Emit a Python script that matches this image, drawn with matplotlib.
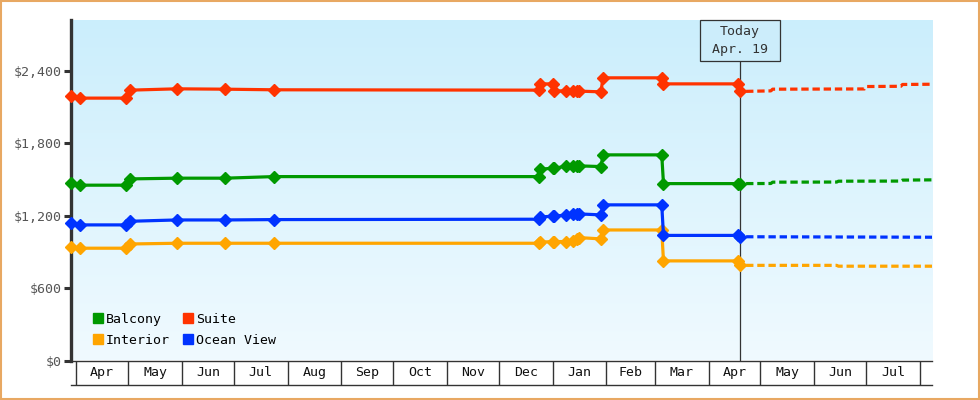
import datetime as dt
import numpy as np
import matplotlib
matplotlib.use('Agg')
import matplotlib.pyplot as plt
import matplotlib.dates as mdates
import matplotlib.transforms as mtransforms
from matplotlib.lines import Line2D
from matplotlib.patches import Rectangle


def d(y, m, dd):
    return dt.datetime(y, m, dd)


# ---- Data ----

obs_dates = [d(2018, 3, 29), d(2018, 4, 3), d(2018, 4, 30), d(2018, 5, 2),
             d(2018, 5, 29), d(2018, 6, 26), d(2018, 7, 24), d(2018, 12, 24),
             d(2018, 12, 25), d(2019, 1, 1), d(2019, 1, 2), d(2019, 1, 9),
             d(2019, 1, 13), d(2019, 1, 15), d(2019, 1, 16), d(2019, 1, 29),
             d(2019, 1, 30), d(2019, 3, 5), d(2019, 3, 6), d(2019, 4, 18),
             d(2019, 4, 19)]

balcony = [1468, 1452, 1452, 1504, 1510, 1510, 1523, 1523, 1584, 1593, 1593,
           1609, 1612, 1614, 1612, 1606, 1703, 1703, 1465, 1465, 1465]
suite = [2192, 2173, 2173, 2239, 2250, 2247, 2242, 2239, 2291, 2291, 2233,
         2233, 2233, 2231, 2231, 2225, 2341, 2341, 2291, 2291, 2228]
interior = [938, 930, 930, 965, 971, 971, 971, 971, 980, 985, 985,
            985, 990, 1003, 1018, 1007, 1081, 1081, 825, 825, 788]
ocean_view = [1139, 1123, 1123, 1153, 1164, 1164, 1167, 1170, 1189, 1195, 1195,
              1206, 1211, 1214, 1214, 1206, 1289, 1289, 1036, 1036, 1025]

# forecast (dashed) after today
fc_balcony_dates = [d(2019, 4, 19), d(2019, 5, 7), d(2019, 5, 8), d(2019, 6, 14),
                    d(2019, 6, 15), d(2019, 7, 21), d(2019, 7, 22), d(2019, 8, 8)]
fc_balcony = [1465, 1466, 1477, 1478, 1485, 1486, 1494, 1496]
fc_suite_dates = [d(2019, 4, 19), d(2019, 5, 7), d(2019, 5, 8), d(2019, 6, 30),
                  d(2019, 7, 1), d(2019, 7, 21), d(2019, 7, 22), d(2019, 8, 8)]
fc_suite = [2228, 2233, 2247, 2249, 2269, 2271, 2286, 2288]
fc_interior_dates = [d(2019, 4, 19), d(2019, 6, 14), d(2019, 6, 15), d(2019, 8, 8)]
fc_interior = [788, 788, 781, 781]
fc_ocean_dates = [d(2019, 4, 19), d(2019, 8, 8)]
fc_ocean = [1025, 1021]

today = d(2019, 4, 19)
xmin, xmax = d(2018, 3, 29), d(2019, 8, 8)
yticks = [0, 600, 1200, 1800, 2400]

colors = {'Balcony': '#009900', 'Suite': '#ff3300',
          'Interior': '#ffa500', 'Ocean View': '#0033ff'}

# ---- Figure ----

plt.rcParams['font.family'] = ['DejaVu Sans Mono']
fs = 9.5
dark = '#333333'

fig = plt.figure(figsize=(9.8, 4.0), dpi=100)
ax = fig.add_axes([71 / 980, 39.5 / 400, 861 / 980, 340.5 / 400])

# gradient background
grad = np.linspace(0, 1, 256).reshape(-1, 1)
top_c = np.array([203, 238, 252]) / 255
bot_c = np.array([240, 250, 255]) / 255
img = top_c[None, None, :] * (1 - grad[:, :, None]) + bot_c[None, None, :] * grad[:, :, None]
ax.imshow(img, extent=[0, 1, 0, 1], transform=ax.transAxes, aspect='auto', zorder=0)

series = [('Balcony', balcony, fc_balcony_dates, fc_balcony),
          ('Suite', suite, fc_suite_dates, fc_suite),
          ('Interior', interior, fc_interior_dates, fc_interior),
          ('Ocean View', ocean_view, fc_ocean_dates, fc_ocean)]

for name, vals, fdates, fvals in series:
    ax.plot(obs_dates, vals, color=colors[name], lw=2.3, marker='D', ms=5.8,
            solid_joinstyle='miter', zorder=4, clip_on=False)
    ax.plot(fdates, fvals, color=colors[name], lw=2.3, linestyle=(1.5, (2.3, 1.2)),
            zorder=4)

ax.set_xlim(xmin, xmax)
ax.set_ylim(0, 2820)
ax.set_yticks(yticks)
ax.set_yticklabels([f'${v:,}' for v in yticks], fontsize=fs, color='#555555')
ax.tick_params(axis='y', length=5, width=2.2, color=dark, pad=2)
ax.set_xticks([])
for s in ['top', 'right']:
    ax.spines[s].set_visible(False)
ax.spines['left'].set_linewidth(2.4)
ax.spines['left'].set_color(dark)
ax.spines['bottom'].set_linewidth(1.0)
ax.spines['bottom'].set_color(dark)

# today marker
ax.axvline(today, ymin=0, ymax=1 - 40.7 / 340.5, color=dark, lw=0.9, zorder=3)
blend = mtransforms.blended_transform_factory(ax.transData, ax.transAxes)
tnum = mdates.date2num(today)
ax.add_patch(Rectangle((tnum - 23.1, 1 - 40.7 / 340.5), 46.2, 40.7 / 340.5,
                       transform=blend, facecolor='#ccedfb', edgecolor=dark,
                       lw=0.9, zorder=5, clip_on=False))
ax.text(tnum, 1 - 12 / 340.5, 'Today', transform=blend, ha='center', va='center',
        fontsize=fs, color=dark, zorder=6)
ax.text(tnum, 1 - 29 / 340.5, 'Apr. 19', transform=blend, ha='center', va='center',
        fontsize=fs, color=dark, zorder=6)

# legend
handles = [Line2D([], [], color=colors[n], marker='s', ms=7.2, lw=0, label=n)
           for n in ['Balcony', 'Interior', 'Suite', 'Ocean View']]
ax.legend(handles=handles, ncol=2, loc='lower left', bbox_to_anchor=(0.026, 0.04),
          frameon=False, handlelength=0.7, handletextpad=0.25, columnspacing=1.05,
          labelspacing=0.6, borderpad=0, borderaxespad=0, fontsize=fs)

# month boxes under the plot
ax2 = fig.add_axes([71 / 980, 15 / 400, 861 / 980, 24.5 / 400])
ax2.set_xlim(xmin, xmax)
ax2.set_ylim(0, 1)
ax2.set_xticks([])
ax2.set_yticks([])
ax2.patch.set_visible(False)
for s in ['top', 'left', 'right']:
    ax2.spines[s].set_visible(False)
ax2.spines['bottom'].set_color(dark)
ax2.spines['bottom'].set_linewidth(1.0)

month_starts = [d(2018 + (m - 1) // 12, (m - 1) % 12 + 1, 1) for m in range(4, 21)]
for i, ms_ in enumerate(month_starts):
    ax2.axvline(ms_, color=dark, lw=1.0)
    if i + 1 < len(month_starts):
        mid = ms_ + (month_starts[i + 1] - ms_) / 2
        ax2.text(mid, 0.5, ms_.strftime('%b'), ha='center', va='center',
                 fontsize=fs, color='#111111')

# orange frame around the whole image
fig.patches.append(Rectangle((0.001, 0.002), 0.998, 0.996, transform=fig.transFigure,
                             fill=False, edgecolor='#e8a862', lw=1.5))

fig.savefig('out.png', dpi=100)
